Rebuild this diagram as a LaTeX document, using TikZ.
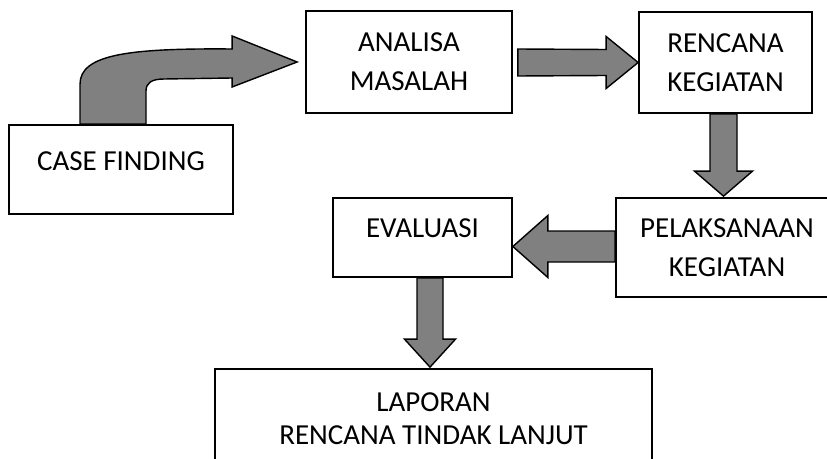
\documentclass[tikz,border=0pt]{standalone}
\usepackage{fontspec}
\setmainfont{Carlito}
\usetikzlibrary{calc,positioning}

\definecolor{arrowgray}{RGB}{128,128,128}

\begin{document}
\begin{tikzpicture}[x=0.02cm, y=-0.02cm,
    box/.style={draw=black, line width=1pt, align=center, inner sep=0pt,
      font=\fontsize{16.5}{22}\selectfont},
    fatarrow/.style={draw=black, line width=0.8pt, fill=arrowgray, line join=miter}]
  \clip (0,0) rectangle (827,459);
  % boxes
  \node (case)[box, minimum width=4.48cm, minimum height=1.78cm, text depth=0.32cm] at (121,169.5) {CASE FINDING};
  \node (ana)[box, minimum width=4.12cm, minimum height=2.04cm] at (409,62) {ANALISA\\MASALAH};
  \node (ren)[box, minimum width=3.46cm, minimum height=2.02cm] at (725.5,62.5) {RENCANA\\KEGIATAN};
  \node (pel)[box, minimum width=4.44cm, minimum height=1.98cm] at (727,247.5) {PELAKSANAAN\\KEGIATAN};
  \node (eva)[box, minimum width=3.58cm, minimum height=1.58cm, text depth=0.38cm] at (422.5,237.5) {EVALUASI};
  \node (lap)[box, minimum width=8.74cm, minimum height=1.98cm,
    font=\fontsize{16.5}{19}\selectfont] at (433.5,418.5) {LAPORAN\\RENCANA TINDAK LANJUT};

  \coordinate (t1) at (ren.south |- pel.north);
  \coordinate (t2) at (eva.east |- pel.west);
  \coordinate (t3) at (lap.north |- eva.south);

  % arrows
  \draw[fatarrow] ($(case.north)+(-41,0)$) -- ($(case.north)+(-41,-40)$)
    .. controls ($(case.north)+(-41,-70)$) and ($(case.north)+(9,-76)$) .. ($(ana.west)+(-73,-13)$)
    -- ($(ana.west)+(-73,-26)$) -- ($(ana.west)+(-8,0)$) -- ($(ana.west)+(-73,25)$)
    -- ($(ana.west)+(-73,16)$) -- ($(ana.west)+(-141,17)$)
    .. controls ($(ana.west)+(-154,17)$) and ($(case.north)+(25,-41)$) .. ($(case.north)+(25,-33)$)
    -- ($(case.north)+(25,0)$) -- cycle;
  \draw[fatarrow] ($(ana.east)+(5,-13)$) -- ($(ren.west)+(-32,-13)$) -- ($(ren.west)+(-32,-26)$)
    -- (ren.west) -- ($(ren.west)+(-32,26)$) -- ($(ren.west)+(-32,13)$)
    -- ($(ana.east)+(5,14)$) -- cycle;
  \draw[fatarrow] ($(ren.south)+(-15.5,0)$) -- ($(t1)+(-15.5,-26)$) -- ($(t1)+(-31,-26)$)
    -- ($(t1)+(-2,-1)$) -- ($(t1)+(27,-26)$) -- ($(t1)+(11.5,-26)$)
    -- ($(ren.south)+(11.5,0)$) -- cycle;
  \draw[fatarrow] ($(pel.west)+(0,-16.5)$) -- ($(t2)+(35,-16.5)$) -- ($(t2)+(35,-32)$)
    -- ($(t2)+(0,-1)$) -- ($(t2)+(35,30)$) -- ($(t2)+(35,14.5)$)
    -- ($(pel.west)+(0,14.5)$) -- cycle;
  \draw[fatarrow] ($(t3)+(-16.5,0)$) -- ($(lap.north)+(-16.5,-29)$) -- ($(lap.north)+(-29,-29)$)
    -- ($(lap.north)+(-3.5,-1)$) -- ($(lap.north)+(22,-29)$) -- ($(lap.north)+(9.5,-29)$)
    -- ($(t3)+(9.5,0)$) -- cycle;
\end{tikzpicture}
\end{document}
